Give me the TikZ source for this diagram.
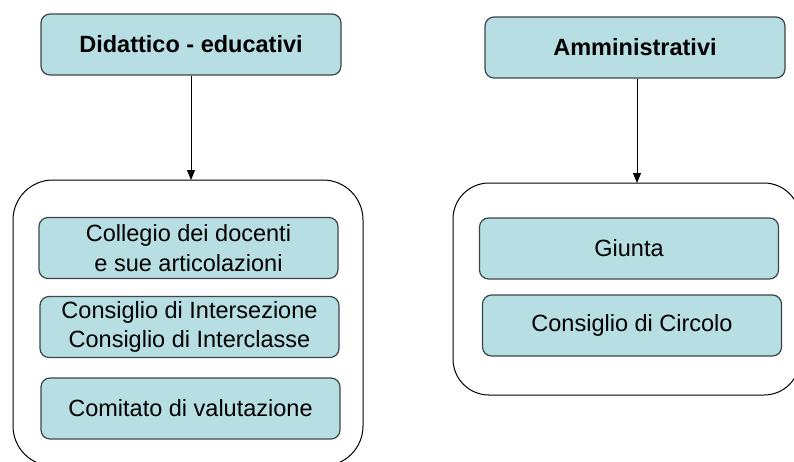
\documentclass[tikz,border=0pt]{standalone}
\usepackage{fontspec}
\setmainfont{Liberation Sans}
\usetikzlibrary{arrows.meta}
\definecolor{boxfill}{RGB}{182,222,227}
\definecolor{boxline}{RGB}{60,70,70}
\tikzset{
  headbox/.style={draw=boxline, fill=boxfill, line width=1.2pt, rounded corners=9pt,
    minimum width=300pt, minimum height=61pt, inner sep=0pt,
    font=\fontsize{23.5}{29}\selectfont\bfseries, align=center},
  itembox/.style={draw=boxline, fill=boxfill, line width=1.2pt, rounded corners=9pt,
    minimum width=299pt, minimum height=61pt, inner sep=0pt,
    font=\fontsize{23.5}{29.5}\selectfont, align=center},
  container/.style={draw=black, line width=1pt, rounded corners=40pt},
  link/.style={draw=black, line width=1pt, -{Triangle[width=8pt,length=10pt]}}
}
\begin{document}
\begin{tikzpicture}[x=1pt,y=-1pt]
\useasboundingbox (0,0) rectangle (794,461);
\clip (0,0) rectangle (794,461);
\fill[white] (0,0) rectangle (794,461);
% containers
\draw[container] (13,180) rectangle (363,466);
\coordinate (lc) at (191,180);
\draw[container, rounded corners=36pt] (453,183) rectangle (800,395);
\coordinate (rc) at (637,183);
% heads
\node[headbox] (did) at (191,44.5) {Didattico - educativi};
\node[headbox] (amm) at (635,47.5) {Amministrativi};
% items left
\node[itembox] (coll) at (188.5,248) {Collegio dei docenti\\ e sue articolazioni};
\node[itembox] (cons) at (189.5,327) {Consiglio di Intersezione\\Consiglio di Interclasse};
\node[itembox] (comi) at (190.5,408.5) {Comitato di valutazione};
% items right
\node[itembox] (giu) at (629,248.5) {Giunta};
\node[itembox] (circ) at (632,325.5) {Consiglio di Circolo};
% arrows
\draw[link] (did.south) -- (lc);
\draw[link] (amm.south -| rc) -- (rc);
\end{tikzpicture}
\end{document}
